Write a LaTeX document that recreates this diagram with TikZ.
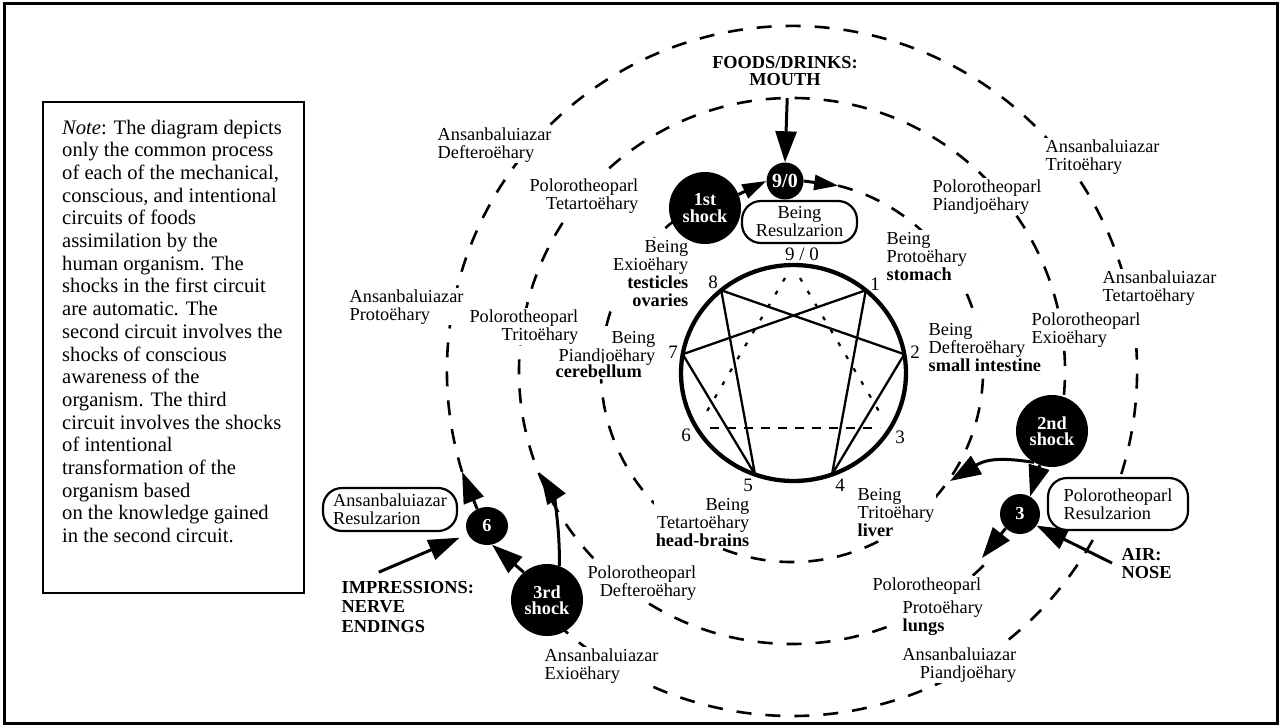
\documentclass[tikz,border=0pt]{standalone}
\usepackage{fontspec}
\setmainfont{Liberation Serif}
\usetikzlibrary{arrows.meta,shapes.geometric}

% Stacked lines; the box baseline is the baseline of the first line
\newcommand\stackL[1]{\vtop{\halign{##\hfil\cr#1\crcr}}}
\newcommand\stackR[1]{\vtop{\halign{\hfil##\cr#1\crcr}}}
\newcommand\stackC[1]{\vtop{\halign{\hfil##\hfil\cr#1\crcr}}}

\tikzset{
  circuitline/.style={line width=2.6pt, dash pattern=on 15pt off 14pt},
  lbl/.style={font=\fontsize{18.3}{18}\selectfont, fill=white, inner sep=1.5pt},
  boldlbl/.style={fill=white, inner sep=1.5pt, font=\fontsize{18.3}{#1}\selectfont\bfseries},
  boldlbl/.default=18,
  numlbl/.style={font=\fontsize{19}{19}\selectfont, inner sep=0pt},
  shocknode/.style={circle, fill=black, text=white, inner sep=0pt, minimum size=72pt,
    align=center, font=\fontsize{18.3}{16.5}\selectfont\bfseries},
  blackdot/.style={circle, fill=black, text=white, inner sep=0pt, minimum size=38pt,
    font=\fontsize{18.3}{18}\selectfont\bfseries},
  resulbox/.style={draw, line width=2.2pt, rounded corners=19pt, fill=white, inner sep=0pt,
    font=\fontsize{18.3}{18}\selectfont},
  flowarrow/.style={line width=3pt, -{Triangle[length=31pt,width=21pt]}},
  flowsmall/.style={line width=3pt, -{Triangle[length=24pt,width=15pt]}},
  hexad/.style={line width=2.3pt, line join=round},
  triside/.style={line width=2.2pt, dash pattern=on 4pt off 11pt},
  base63/.style={line width=2.8pt, dash pattern=on 9pt off 8pt},
}

\begin{document}
\begin{tikzpicture}[x=1pt,y=-1pt]
\useasboundingbox (0,0) rectangle (1280,726);
\draw[line width=3pt] (4,3) rectangle (1277,723);

% ---------- note ----------
\draw[line width=2.3pt] (43,102) rectangle (304,593);
\node[anchor=base west, inner sep=0pt, font=\fontsize{20.6}{22.7}\selectfont] (note) at (62,134)
  {\stackL{\textit{Note}: The diagram depicts\cr
  only the common process\cr
  of each of the mechanical,\cr
  conscious, and intentional\cr
  circuits of foods\cr
  assimilation by the\cr
  human organism. The\cr
  shocks in the first circuit\cr
  are automatic. The\cr
  second circuit involves the\cr
  shocks of conscious\cr
  awareness of the\cr
  organism. The third\cr
  circuit involves the shocks\cr
  of intentional\cr
  transformation of the\cr
  organism based\cr
  on the knowledge gained\cr
  in the second circuit.}};

% ---------- the three circuits ----------
\coordinate (O) at (792,371);
\draw[circuitline] (O) ++(-76:191) coordinate (inStart)
  arc[start angle=-76, end angle=242, radius=191];
\draw[circuitline] (O) ++(5:273)
  arc[start angle=5, end angle=-315, radius=273];
\draw[circuitline] (O) ++(-197:345) coordinate (outHit)
  arc[start angle=-197, end angle=137, radius=345];
\path (O) ++(-91:273) coordinate (midTop);
\coordinate (inHit) at (950,481);
\coordinate (midHitR) at (982,558);
\coordinate (midHitL) at (540,473);

% ---------- enneagram ----------
\coordinate (E) at (793.5,373);
\foreach \k in {0,...,8} \path (E) ++({-90+40*\k}:112.5 and 108) coordinate (p\k);
\draw[line width=4.3pt] (E) ellipse[x radius=112.5, y radius=108];
\draw[hexad] (p1) -- (p4) -- (p2) -- (p8) -- (p5) -- (p7) -- cycle;
\coordinate (t9l) at (785,278);
\coordinate (t9r) at (800,278);
\coordinate (t6) at (703,418);
\coordinate (t3) at (883,418);
\draw[triside] (t9l) -- (t6);
\draw[triside] (t9r) -- (t3);
\coordinate (b6) at (710,428);
\coordinate (b3) at (880,428);
\draw[base63] (b6) -- (b3);

\node[numlbl] (n0) at (802,254) {9 / 0};
\node[numlbl] (n1) at (875,284) {1};
\node[numlbl] (n2) at (915,352) {2};
\node[numlbl] (n3) at (900,437) {3};
\node[numlbl] (n4) at (840,485) {4};
\node[numlbl] (n5) at (748,485) {5};
\node[numlbl] (n6) at (686,435) {6};
\node[numlbl] (n7) at (673,352) {7};
\node[numlbl] (n8) at (713,282) {8};

% ---------- Being labels ----------
\node[lbl, anchor=base west] (b1) at (885,244) {\stackL{Being\cr Protoëhary\cr \textbf{stomach}}};
\node[lbl, anchor=base west] (b2) at (927,335) {\stackL{Being\cr Defteroëhary\cr \textbf{small intestine}}};
\node[lbl, anchor=base west] (b3) at (856,500) {\stackL{Being\cr Tritoëhary\cr \textbf{liver}}};
\node[lbl, anchor=base east] (b4) at (751,510) {\stackR{Being\cr Tetartoëhary\cr \textbf{head-brains}}};
\node[lbl, anchor=base east] (b5a) at (657,343) {\stackR{Being\cr Piandjoëhary}};
\node[lbl, anchor=base west] (b5b) at (554,377) {\textbf{cerebellum}};
\node[lbl, anchor=base east] (b6) at (690,252) {\stackR{Being\cr Exioëhary\cr \textbf{testicles}\cr \textbf{ovaries}}};

% ---------- Polorotheoparl labels ----------
\node[lbl, anchor=base east] (q4) at (640,191) {\stackR{Polorotheoparl\cr Tetartoëhary}};
\node[lbl, anchor=base east] (q3) at (580,322) {\stackR{Polorotheoparl\cr Tritoëhary}};
\node[lbl, anchor=base east] (q2) at (698,578) {\stackR{Polorotheoparl\cr Defteroëhary}};
\node[lbl, anchor=base east] (q1a) at (983,590) {Polorotheoparl};
\node[lbl, anchor=base west, inner xsep=9pt] (q1b) at (893.5,613) {\stackL{Protoëhary\cr \textbf{lungs}}};
\node[lbl, anchor=base west] (q6) at (1030,325) {\stackL{Polorotheoparl\cr Exioëhary}};
\node[lbl, anchor=base west] (q5) at (931,192) {\stackL{Polorotheoparl\cr Piandjoëhary}};

% ---------- Ansanbaluiazar labels ----------
\node[lbl, anchor=base west] (a2) at (436,140) {\stackL{Ansanbaluiazar\cr Defteroëhary}};
\node[lbl, anchor=base west] (a1) at (348,302) {\stackL{Ansanbaluiazar\cr Protoëhary}};
\node[lbl, anchor=base west] (a3) at (1044,152) {\stackL{Ansanbaluiazar\cr Tritoëhary}};
\node[lbl, anchor=base west] (a4) at (1101,283) {\stackL{Ansanbaluiazar\cr Tetartoëhary}};
\node[lbl, anchor=base east] (a5) at (1018,660) {\stackR{Ansanbaluiazar\cr Piandjoëhary}};
\node[lbl, anchor=base west] (a6) at (543,661) {\stackL{Ansanbaluiazar\cr Exioëhary}};

% ---------- inputs ----------
\node[boldlbl=17, anchor=base] (food) at (785,68) {\stackC{FOODS/DRINKS:\cr MOUTH}};
\node[boldlbl=19.5, anchor=base west] (impr) at (340,593) {\stackL{IMPRESSIONS:\cr NERVE\cr ENDINGS}};
\node[boldlbl=18, anchor=base west] (air) at (1120,560) {\stackL{AIR:\cr NOSE}};

% ---------- Resulzarion boxes ----------
\node[resulbox, minimum width=115pt, minimum height=42pt] (bres) at (799.5,222) {\stackC{Being\cr Resulzarion}};
\node[resulbox, minimum width=134pt, minimum height=43pt] (ares) at (390,509.5) {\stackL{Ansanbaluiazar\cr Resulzarion}};
\node[resulbox, minimum width=140pt, minimum height=52pt] (pres) at (1118,504) {\stackL{Polorotheoparl\cr Resulzarion}};

% ---------- shocks and notes ----------
\node[shocknode] (shockA) at (705,208) {1st\\shock};
\node[blackdot, minimum size=37pt, font=\fontsize{20}{20}\selectfont\bfseries] (nineO) at (785,181) {9/0};
\node[shocknode] (shockB) at (1052,431) {2nd\\shock};
\node[blackdot, minimum size=40pt] (three) at (1020,514) {3};
\node[blackdot, ellipse, minimum width=42pt, minimum height=38pt] (six) at (487,526) {6};
\node[shocknode] (shockC) at (547,600) {3rd\\shock};

% ---------- flows ----------
\draw[flowarrow] (midTop) -- (nineO.north);
\draw[flowsmall] (shockA.22) -- (nineO.west);
\draw[flowsmall] (nineO.east) -- (inStart);
\draw[flowarrow] (shockB.240) .. controls (1005,458) and (988,458) .. (inHit);
\draw[flowarrow] (shockB.250) -- (three.60);
\draw[flowarrow] ([xshift=-8pt]air.west) -- (three.-35);
\draw[flowarrow] (three.225) -- (midHitR);
\draw[flowarrow, shorten >=9pt] ([xshift=-29pt,yshift=7pt]impr.north) -- (six);
\draw[flowarrow] (shockC.130) -- (six.-75);
\draw[flowarrow] (six.120) -- (outHit);
\draw[flowarrow] (shockC.70) .. controls (560,520) and (552,492) .. (midHitL);
\end{tikzpicture}
\end{document}
